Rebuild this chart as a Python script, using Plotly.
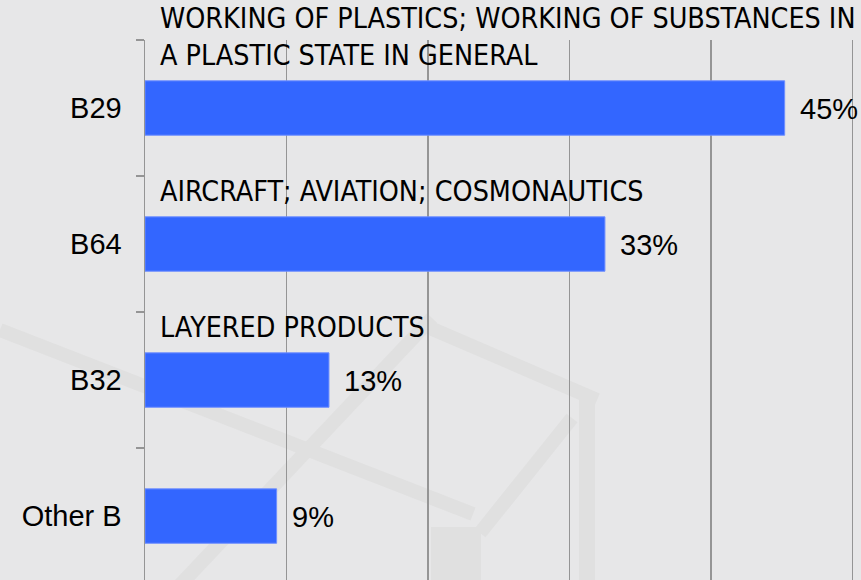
import plotly.graph_objects as go

categories = ["B29", "B64", "B32", "Other B"]
values = [45.2, 32.5, 13.0, 9.3]
value_labels = ["45%", "33%", "13%", "9%"]
descriptions = [
    "WORKING OF PLASTICS; WORKING OF SUBSTANCES IN<br>A PLASTIC STATE IN GENERAL",
    "AIRCRAFT; AVIATION; COSMONAUTICS",
    "LAYERED PRODUCTS",
    "",
]

BAR_COLOR = "#3366ff"
GRID_COLOR = "#959595"
BG = "#e7e7e8"
WATERMARK = "#e0e0e0"

W, H = 861, 580
ML, MR, MT, MB = 145, 7, 40, 0

fig = go.Figure()
fig.add_trace(go.Bar(
    y=categories,
    x=values,
    orientation="h",
    width=0.4,
    marker=dict(color=BAR_COLOR, line=dict(color="#6f8fff", width=1)),
    hoverinfo="skip",
))

annotations = []
for cat, v, lab, desc in zip(categories, values, value_labels, descriptions):
    annotations.append(dict(
        x=v, y=cat, xref="x", yref="y", text=lab, showarrow=False,
        xanchor="left", yanchor="middle", xshift=13, yshift=-1,
        font=dict(family="Liberation Sans, Arial", size=29, color="#000000"),
    ))
    if desc:
        annotations.append(dict(
            x=0, y=cat, xref="x", yref="y", text=desc, showarrow=False,
            xanchor="left", yanchor="bottom", xshift=13, yshift=34,
            align="left",
            font=dict(family="DejaVu Sans Condensed, DejaVu Sans", size=28.4, color="#000000"),
        ))

# faint background watermark (decorative), given in page pixels
wm_px = [
    (0, 330, 473, 514, 14),
    (430, 328, 597, 400, 14),
    (180, 585, 432, 318, 14),
    (572, 418, 480, 533, 14),
    (587, 398, 587, 585, 16),
    (456, 527, 456, 585, 50),
]
pw = W - ML - MR
ph = H - MT - MB
shapes = [
    dict(type="line", xref="paper", yref="paper",
         x0=(a - ML) / pw, y0=1 - (b - MT) / ph, x1=(c - ML) / pw, y1=1 - (d - MT) / ph,
         line=dict(color=WATERMARK, width=w), layer="below")
    for a, b, c, d, w in wm_px
]

fig.update_layout(
    width=W, height=H,
    margin=dict(l=ML, r=MR, t=MT, b=MB),
    paper_bgcolor=BG, plot_bgcolor="rgba(0,0,0,0)",
    showlegend=False,
    annotations=annotations,
    shapes=shapes,
    xaxis=dict(
        range=[0, 50.1], dtick=10, showticklabels=False,
        showgrid=True, gridcolor=GRID_COLOR, gridwidth=1.5,
        zeroline=False, showline=False, fixedrange=True,
    ),
    yaxis=dict(
        type="category", categoryorder="array", categoryarray=categories,
        range=[3.47, -0.5],
        showline=True, linecolor=GRID_COLOR, linewidth=1.5,
        ticks="outside", tickson="boundaries", ticklen=8, tickcolor=GRID_COLOR, tickwidth=1.5,
        ticklabelstandoff=16,
        tickfont=dict(family="Liberation Sans, Arial", size=29, color="#000000"),
        showgrid=False, zeroline=False, fixedrange=True,
    ),
)

fig.write_html(
    "out.html",
    config={"displayModeBar": False, "staticPlot": True},
    post_script="document.body.style.margin='0';document.body.style.overflow='hidden';",
)
